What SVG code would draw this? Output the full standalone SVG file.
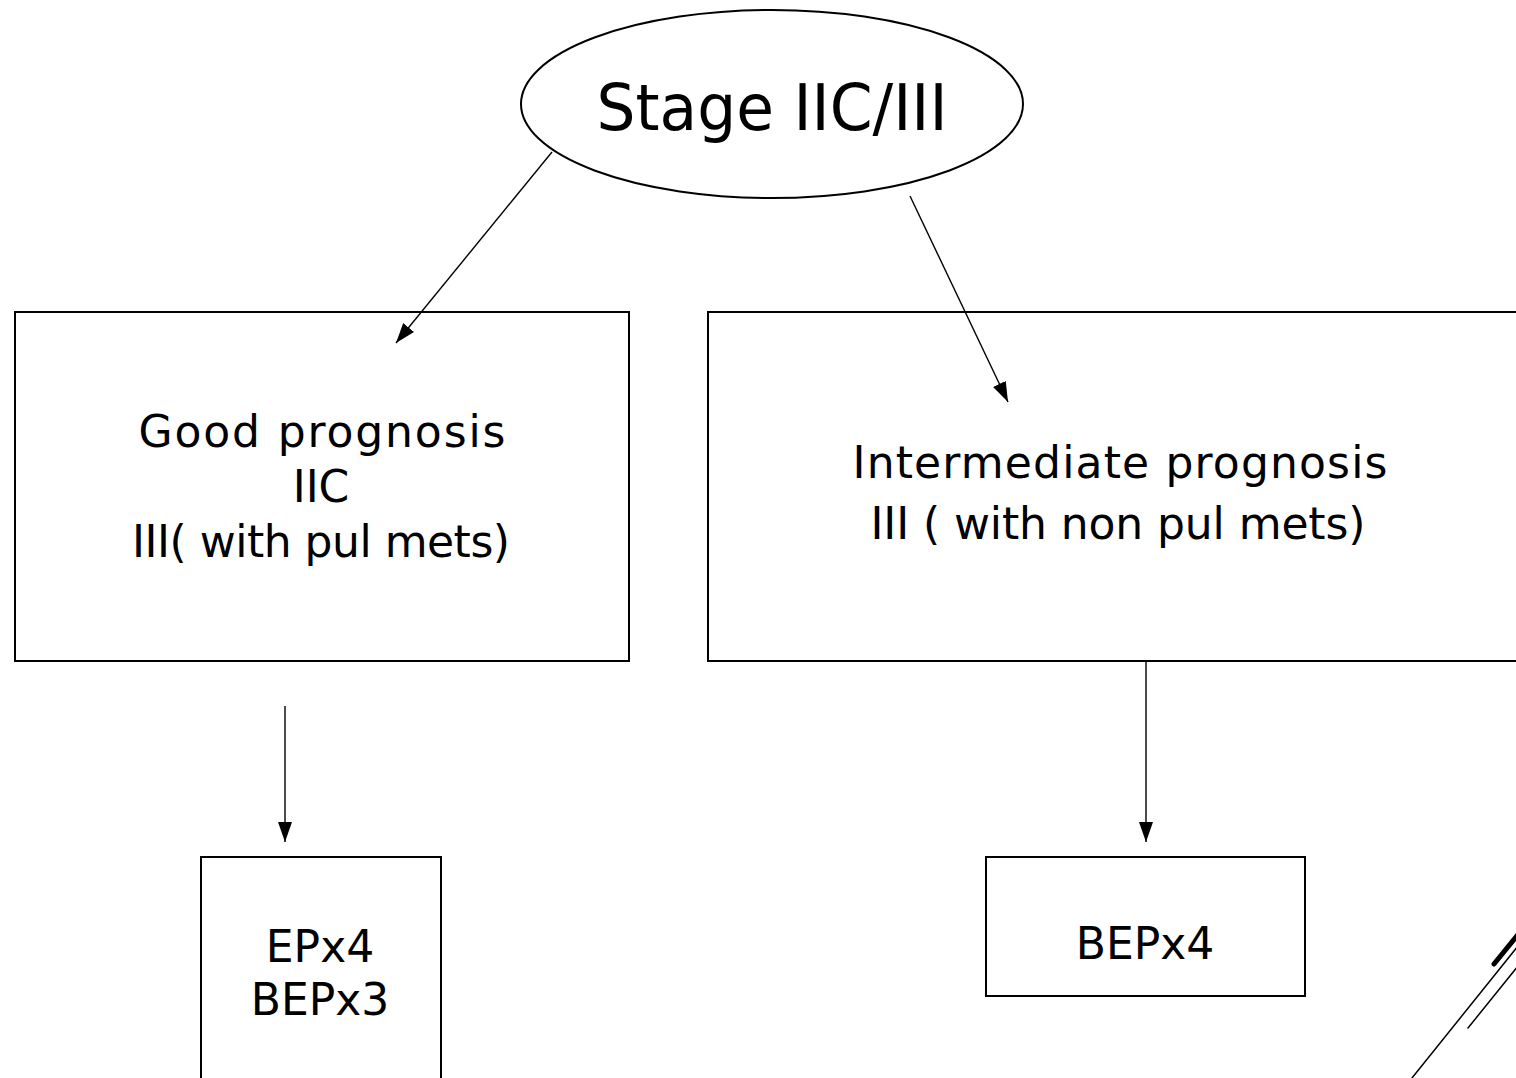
<svg xmlns="http://www.w3.org/2000/svg" width="1516" height="1078" viewBox="0 0 1516 1078">
<style>
.shape{fill:#fff;stroke:#000;stroke-width:2}
.conn{stroke:#000;stroke-width:1.4;fill:none}
.t{font-family:"DejaVu Sans","Liberation Sans",sans-serif;fill:#000;text-anchor:middle}
.m{font-size:44px}
.b{font-size:64px}
</style>
<defs>
<marker id="ah2" viewBox="0 0 20 14" refX="20" refY="7" markerWidth="20" markerHeight="14" markerUnits="userSpaceOnUse" orient="auto">
<path d="M0,0 L20,7 L0,14 z" fill="#000"/>
</marker>
</defs>
<rect width="1516" height="1078" fill="#fff"/>
<g id="stage">
<ellipse class="shape" cx="772" cy="104" rx="251" ry="94"/>
<text class="t b" x="772" y="130" textLength="351" lengthAdjust="spacingAndGlyphs">Stage IIC/III</text>
</g>
<g id="good">
<rect class="shape" x="15" y="312" width="614" height="349"/>
<text class="t m" x="322" y="447" textLength="367" lengthAdjust="spacing">Good prognosis</text>
<text class="t m" x="321" y="502">IIC</text>
<text class="t m" x="321" y="557" textLength="378" lengthAdjust="spacing">III( with pul mets)</text>
</g>
<g id="intermediate">
<rect class="shape" x="708" y="312" width="830" height="349"/>
<text class="t m" x="1120" y="478" textLength="535" lengthAdjust="spacing">Intermediate prognosis</text>
<text class="t m" x="1118" y="539" textLength="495" lengthAdjust="spacing">III ( with non pul mets)</text>
</g>
<g id="ep">
<rect class="shape" x="201" y="857" width="240" height="240"/>
<text class="t m" x="320" y="962">EPx4</text>
<text class="t m" x="320" y="1015">BEPx3</text>
</g>
<g id="bep">
<rect class="shape" x="986" y="857" width="319" height="139"/>
<text class="t m" x="1145" y="959">BEPx4</text>
</g>
<g id="connectors">
<line class="conn" x1="552" y1="152" x2="396" y2="343" marker-end="url(#ah2)"/>
<line class="conn" x1="910" y1="196" x2="1008" y2="402" marker-end="url(#ah2)"/>
<line class="conn" x1="285" y1="706" x2="285" y2="842" marker-end="url(#ah2)"/>
<line class="conn" x1="1146" y1="661" x2="1146" y2="842" marker-end="url(#ah2)"/>
</g>
<g id="decor" stroke="#000" stroke-linecap="round">
<line x1="1494" y1="964" x2="1520" y2="932" stroke-width="5"/>
<line x1="1412" y1="1078" x2="1518" y2="946" stroke-width="1.5"/>
<line x1="1468" y1="1028" x2="1518" y2="966" stroke-width="1.5"/>
</g>
</svg>
